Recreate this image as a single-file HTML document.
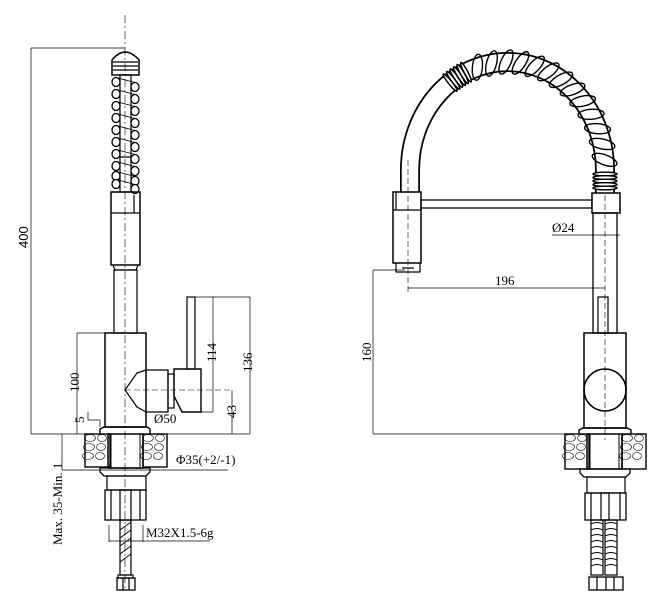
<!DOCTYPE html>
<html><head><meta charset="utf-8"><style>
html,body{margin:0;padding:0;background:#fff;}
svg{display:block;}
text{font-family:"Liberation Serif",serif;font-size:13px;fill:#000;stroke:none;}
</style></head><body>
<svg id="s" width="669" height="600" viewBox="0 0 669 600" xmlns="http://www.w3.org/2000/svg" fill="none" stroke="#000" stroke-width="1.2">
<!-- ============ LEFT VIEW ============ -->
<line x1="125" y1="15" x2="125" y2="590" stroke-width="0.6" stroke-dasharray="8,3,2,3"/>
<line x1="31" y1="48" x2="125" y2="48" stroke-width="0.7"/>
<line x1="31" y1="48" x2="31" y2="434" stroke-width="0.7"/>
<text transform="translate(28,248) rotate(-90)" style="font-family:'Liberation Sans',sans-serif">400</text>
<!-- head -->
<path d="M112 75 L112 60 Q125 44 139 60 L139 75 Z" stroke-width="1.5"/>
<line x1="113" y1="62" x2="138" y2="62"/><line x1="113" y1="66" x2="138" y2="66"/><line x1="113" y1="70" x2="138" y2="70"/>
<rect x="120" y="75" width="11" height="117"/>
<line x1="120" y1="157" x2="131" y2="157"/>
<g id="lspring" stroke-width="1.3"></g>
<!-- sleeve -->
<rect x="111" y="192" width="29" height="73" stroke-width="1.5"/>
<line x1="111" y1="213" x2="140" y2="213"/>
<line x1="134" y1="195" x2="134" y2="213"/>
<path d="M113 265 L115 270 L136 270 L138 265"/>
<rect x="114" y="270" width="23" height="63"/>
<!-- body -->
<rect x="105" y="333" width="41" height="94" stroke-width="1.5"/>
<path d="M146 370 L168 370 L168 412 L146 412" stroke-width="1.3"/>
<path d="M146 370 L137 373 L125 390 L137 407 L146 412"/>
<rect x="168" y="374" width="6" height="34"/>
<path d="M174 369 L201 369 L201 412 L182 412 L174 396 Z" stroke-width="1.4"/>
<rect x="187" y="297" width="8" height="72"/>
<path d="M100 434 L100 429 L104 427 L147 427 L150 429 L150 434" stroke-width="1.4"/>
<!-- dims -->
<line x1="187" y1="297" x2="250" y2="297" stroke-width="0.7"/>
<line x1="213" y1="297" x2="213" y2="412" stroke-width="0.7"/>
<line x1="201" y1="412" x2="213" y2="412" stroke-width="0.7"/>
<text transform="translate(216,362) rotate(-90)">114</text>
<line x1="250" y1="297" x2="250" y2="434" stroke-width="0.7"/>
<text transform="translate(252,372) rotate(-90)">136</text>
<line x1="125" y1="390" x2="232" y2="390" stroke-width="0.6" stroke-dasharray="6,3"/>
<line x1="232" y1="390" x2="232" y2="434" stroke-width="0.7"/>
<text transform="translate(236,418) rotate(-90)">43</text>
<line x1="31" y1="434" x2="250" y2="434" stroke-width="0.7"/>
<line x1="77" y1="333" x2="105" y2="333" stroke-width="0.7"/>
<line x1="77" y1="333" x2="77" y2="434" stroke-width="0.7"/>
<text transform="translate(79,392) rotate(-90)">100</text>
<text transform="translate(84,423) rotate(-90)">5</text>
<path d="M88 412 L88 420 L100 420 L100 427" stroke-width="0.7"/>
<text x="154" y="423">Ø50</text>
<!-- countertop -->
<rect x="85" y="434" width="25" height="33" stroke-width="1.4"/>
<rect x="143" y="434" width="24" height="33" stroke-width="1.4"/>
<g id="stone1" stroke-width="0.6"></g>
<rect x="108" y="434" width="35" height="34" stroke-width="1.5"/>
<rect x="111" y="434" width="29" height="34" stroke-width="1"/>
<path d="M100 468 L150 468 L150 472 L146 476 L104 476 L100 472 Z" stroke-width="1.3"/>
<rect x="107" y="476" width="39" height="14"/>
<rect x="105" y="490" width="41" height="30" stroke-width="1.3"/>
<line x1="111" y1="490" x2="111" y2="520"/><line x1="140" y1="490" x2="140" y2="520"/>
<rect x="120" y="490" width="11" height="30"/>
<rect x="120" y="520" width="11" height="55"/>
<g stroke-width="0.9"><line x1="120" y1="530" x2="131" y2="522"/><line x1="120" y1="538" x2="131" y2="530"/><line x1="120" y1="546" x2="131" y2="538"/><line x1="120" y1="554" x2="131" y2="546"/><line x1="120" y1="562" x2="131" y2="554"/></g>
<rect x="118" y="575" width="15" height="3"/>
<rect x="117" y="578" width="18" height="12" stroke-width="1.3"/>
<line x1="123" y1="578" x2="123" y2="590"/><line x1="129" y1="578" x2="129" y2="590"/>
<!-- lower dims -->
<line x1="62" y1="434" x2="62" y2="470" stroke-width="0.7"/>
<line x1="62" y1="470" x2="228" y2="470" stroke-width="0.7"/>
<text x="176" y="464">Φ35(+2/-1)</text>
<text transform="translate(62,545) rotate(-90)">Max. 35-Min. 1</text>
<line x1="109" y1="525" x2="109" y2="542" stroke-width="0.7"/>
<line x1="143" y1="525" x2="143" y2="542" stroke-width="0.7"/>
<line x1="109" y1="541" x2="210" y2="541" stroke-width="0.7"/>
<text x="146" y="537">M32X1.5-6g</text>

<!-- ============ RIGHT VIEW ============ -->
<path d="M410 192 L410 170 A97.5 108 0 0 1 605 170 L605 193" stroke="#000" stroke-width="20"/>
<path d="M410 192 L410 170 A97.5 108 0 0 1 605 170 L605 193" stroke="#fff" stroke-width="16.5"/>
<g id="rcoil" stroke-width="1.4"></g>
<rect x="393" y="192" width="28" height="71" fill="#fff" stroke-width="1.5"/>
<line x1="393" y1="210" x2="421" y2="210"/>
<line x1="396" y1="192" x2="396" y2="210"/>
<path d="M396 263 L396 272 L420 272 L420 263"/>
<line x1="402" y1="268" x2="414" y2="268"/>
<line x1="408" y1="160" x2="408" y2="292" stroke-width="0.6" stroke-dasharray="6,3"/>
<rect x="421" y="200" width="171" height="8" stroke-width="1.3"/>
<rect x="592" y="193" width="28" height="20" fill="#fff" stroke-width="1.5"/>
<rect x="593" y="213" width="24" height="120" stroke-width="1.3"/>
<line x1="605" y1="195" x2="605" y2="440" stroke-width="0.6" stroke-dasharray="6,3"/>
<rect x="598" y="297" width="10" height="36" stroke-width="1.2"/>
<rect x="584" y="333" width="42" height="95" stroke-width="1.5"/>
<circle cx="605" cy="390" r="21" stroke-width="1.6"/>
<path d="M579 434 L579 430 L583 428 L627 428 L631 430 L631 434" stroke-width="1.4"/>
<line x1="552" y1="235" x2="620" y2="235" stroke-width="0.7"/>
<text x="552" y="232">Ø24</text>
<line x1="408" y1="288" x2="605" y2="288" stroke-width="0.7"/>
<text x="495" y="285">196</text>
<line x1="373" y1="270" x2="405" y2="270" stroke-width="0.7"/>
<line x1="373" y1="270" x2="373" y2="434" stroke-width="0.7"/>
<text transform="translate(371,362) rotate(-90)">160</text>
<line x1="373" y1="434" x2="565" y2="434" stroke-width="0.7"/>
<rect x="565" y="434" width="24" height="35" stroke-width="1.4"/>
<rect x="622" y="434" width="24" height="35" stroke-width="1.4"/>
<g id="stone2" stroke-width="0.6"></g>
<rect x="587" y="434" width="35" height="35" stroke-width="1.5"/>
<rect x="590" y="434" width="29" height="35" stroke-width="1"/>
<path d="M580 469 L630 469 L630 473 L626 477 L584 477 L580 473 Z" stroke-width="1.3"/>
<rect x="587" y="477" width="38" height="16"/>
<rect x="585" y="493" width="41" height="27" stroke-width="1.3"/>
<line x1="591" y1="493" x2="591" y2="520"/><line x1="620" y1="493" x2="620" y2="520"/>
<rect x="601" y="493" width="8" height="27"/>
<rect x="591" y="520" width="12" height="55"/>
<rect x="605" y="520" width="12" height="55"/>
<g id="hoses" stroke-width="0.9"></g>
<rect x="589" y="577" width="34" height="13" stroke-width="1.3"/>
<line x1="597" y1="577" x2="597" y2="590"/><line x1="606" y1="577" x2="606" y2="590"/><line x1="614" y1="577" x2="614" y2="590"/>
</svg>
<script>
var NS="http://www.w3.org/2000/svg";
function el(p,t,a){var e=document.createElementNS(NS,t);for(var k in a)e.setAttribute(k,a[k]);p.appendChild(e);return e;}
// left spring: side loops
var ls=document.getElementById('lspring');
var ys=[82,94,106,118,130,142,154,166,176,184];
for(var i=0;i<ys.length;i++){var y=ys[i];
 el(ls,'ellipse',{cx:116,cy:y,rx:4,ry:4.5,fill:'#fff'});
 el(ls,'ellipse',{cx:135,cy:y+5,rx:4,ry:4.5,fill:'#fff'});
 el(ls,'line',{x1:116,y1:y-4.5,x2:135,y2:y+0.5,'stroke-width':0.8});}
// right coil
var rc=document.getElementById('rcoil');
var cx=507.5,cy=170,rx=97.5,ry=108;
function pt(th){return [cx+rx*Math.cos(th),cy+ry*Math.sin(th),Math.atan2(ry*Math.cos(th),-rx*Math.sin(th))*180/Math.PI];}
// tight coils near top-left
for(var i=0;i<6;i++){var p=pt(Math.PI*(1.30+0.012*i));
 el(rc,'ellipse',{cx:p[0],cy:p[1],rx:1.8,ry:11,transform:'rotate('+p[2]+' '+p[0]+' '+p[1]+')',fill:'#fff'});}
// open loops
for(var i=0;i<13;i++){var th=Math.PI*(1.40+0.57*i/12);var p=pt(th);
 el(rc,'ellipse',{cx:p[0],cy:p[1],rx:5,ry:13,transform:'rotate('+(p[2]+25)+' '+p[0]+' '+p[1]+')',fill:'none'});}
for(var y=174;y<=191;y+=3.5){el(rc,'ellipse',{cx:605,cy:y,rx:12,ry:1.8,fill:'#fff'});}
// stones
function stones(id,x0,x1,y0,y1){var g=document.getElementById(id);
 var r=0;
 for(var yy=y0+5;yy<y1-3;yy+=9){for(var xx=x0+5;xx<x1-3;xx+=10){r++;
  var jx=(r*7%5)-2,jy=(r*3%3)-1;
  el(g,'ellipse',{cx:xx+jx,cy:yy+jy,rx:4.5+(r%2),ry:3.5});}}}
stones('stone1',85,110,434,467);stones('stone1',143,167,434,467);
stones('stone2',565,589,434,469);stones('stone2',622,646,434,469);
var h=document.getElementById('hoses');
for(var y=524;y<572;y+=6){el(h,'path',{d:'M591 '+y+' Q597 '+(y-3)+' 603 '+y});el(h,'path',{d:'M605 '+y+' Q611 '+(y-3)+' 617 '+y});}
</script>
</body></html>
